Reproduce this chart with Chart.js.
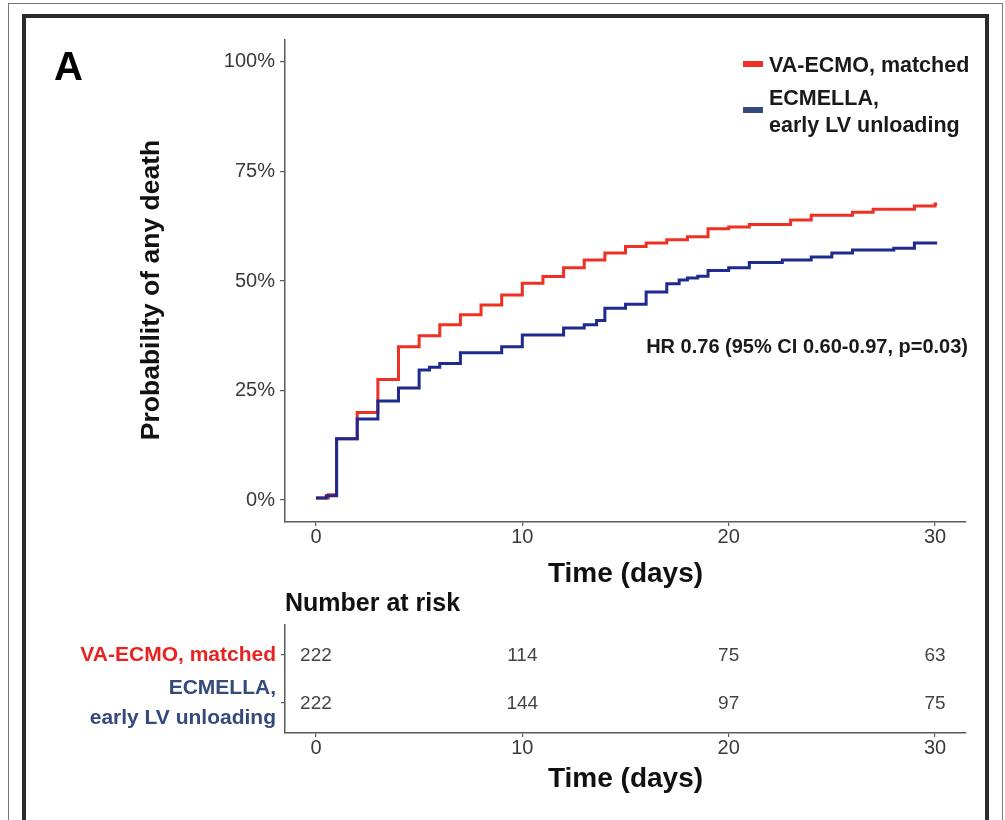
<!DOCTYPE html>
<html><head><meta charset="utf-8">
<script src="https://cdn.jsdelivr.net/npm/chart.js@4.4.1/dist/chart.umd.min.js"></script>
<style>
html,body{margin:0;padding:0;background:#fff;width:1005px;height:820px;overflow:hidden;}
#outer{position:absolute;left:8px;top:3px;width:995px;height:840px;border:1px solid #777;border-bottom:none;box-sizing:border-box;}
#frame{position:absolute;left:22px;top:14px;width:967px;height:840px;border:4px solid #2b2b2b;border-bottom:none;box-sizing:border-box;}
#c1{position:absolute;left:0;top:0;}
#c2{position:absolute;left:0;top:580px;}
</style></head>
<body>
<div id="outer"></div><div id="frame"></div>
<canvas id="c1" width="1005" height="600"></canvas>
<canvas id="c2" width="1005" height="240"></canvas>
<script>
// ---- data ----
const xTicks = [0, 10, 20, 30];
const yTicks = [0, 25, 50, 75, 100];
const vaTimes = [0,0.6,1,2,3,4,5,6,7,8,9,10,11,12,13,14,15,16,17,18,19,20,21,23,24,26,27,29,30,30.1];
const vaValues = [0.5,1.2,14,20,27.5,35,37.5,40,42.3,44.5,46.8,49.5,51,53,54.8,56.4,57.9,58.7,59.4,60.1,61.9,62.3,62.9,63.9,65,65.7,66.4,67.1,67.6,67.6];
const ecTimes = [0,0.5,1,2,3,4,5,5.5,6,7,9,10,12,13,13.6,14,15,16,17,17.6,18,18.5,19,20,21,22.6,24,25,26,28,29,30.1];
const ecValues = [0.5,1.0,14,18.5,22.6,25.6,29.7,30.3,31.2,33.6,35,37.7,39.3,40,41,43.8,44.7,47.5,49.4,50.2,50.7,51.1,52.4,53,54.2,54.8,55.5,56.4,57.1,57.5,58.7,58.7];
const riskVA = [222, 114, 75, 63];
const riskEC = [222, 144, 97, 75];
const seriesNames = ['VA-ECMO, matched', ['ECMELLA,', 'early LV unloading']];
const hrText = 'HR 0.76 (95% CI 0.60-0.97, p=0.03)';
const panelLabel = 'A';
const yTitle = 'Probability of any death';
const xTitle = 'Time (days)';
const riskTitle = 'Number at risk';

// ---- styles ----
const F = '"Liberation Sans", Arial, Helvetica, sans-serif';
const RED = '#ee3124';
const BLUE = '#1e2a8e';
const RED_T = '#e8231f';
const BLUE_T = '#34497c';
const AXIS = '#5a5a5a';
const TICK = '#3a3a3a';

const mainDeco = {
  id: 'mainDeco',
  afterDraw(chart) {
    const ctx = chart.ctx;
    ctx.save();
    ctx.fillStyle = '#000';
    ctx.textAlign = 'left';
    ctx.textBaseline = 'alphabetic';
    ctx.font = 'bold 40px ' + F;
    ctx.fillText(panelLabel, 54, 80);
    // legend
    ctx.fillStyle = RED; ctx.fillRect(743, 61, 20, 6);
    ctx.fillStyle = BLUE_T; ctx.fillRect(743, 107, 20, 6);
    ctx.fillStyle = '#1a1a1a';
    ctx.font = 'bold 21.5px ' + F;
    ctx.fillText(seriesNames[0], 769, 72);
    ctx.fillText(seriesNames[1][0], 769, 105);
    ctx.fillText(seriesNames[1][1], 769, 132);
    // HR
    ctx.textAlign = 'right';
    ctx.font = 'bold 20px ' + F;
    ctx.fillText(hrText, 968, 353);
    // y axis title
    ctx.translate(152, 290);
    ctx.rotate(-Math.PI / 2);
    ctx.textAlign = 'center';
    ctx.textBaseline = 'middle';
    ctx.fillStyle = '#111';
    ctx.font = 'bold 26.5px ' + F;
    ctx.fillText(yTitle, 0, 0);
    ctx.restore();
  }
};

new Chart(document.getElementById('c1'), {
  type: 'line',
  data: {
    datasets: [
      { label: seriesNames[0], data: vaTimes.map((t, i) => ({ x: t, y: vaValues[i] })),
        borderColor: RED, borderWidth: 3, stepped: true, pointRadius: 0, fill: false, order: 1 },
      { label: seriesNames[1].join(' '), data: ecTimes.map((t, i) => ({ x: t, y: ecValues[i] })),
        borderColor: BLUE, borderWidth: 3, stepped: true, pointRadius: 0, fill: false, order: 0 }
    ]
  },
  options: {
    responsive: false, animation: false, devicePixelRatio: 1,
    layout: { padding: { left: 0, right: 39, top: 40, bottom: 0 } },
    plugins: { legend: { display: false }, tooltip: { enabled: false } },
    scales: {
      x: {
        type: 'linear', min: -1.5, max: 31.5,
        afterBuildTicks: s => { s.ticks = xTicks.map(v => ({ value: v })); },
        afterFit: s => { s.height = 78; },
        grid: { display: true, drawOnChartArea: false, drawTicks: true, tickLength: 4, color: AXIS, lineWidth: 1.2 },
        border: { display: true, color: AXIS, width: 1.5 },
        ticks: { font: { family: F, size: 20 }, color: TICK, padding: -1, maxRotation: 0, autoSkip: false },
        title: { display: true, text: xTitle, color: '#111', font: { family: F, size: 28, weight: 'bold' }, padding: { top: 0, bottom: 9 } }
      },
      y: {
        type: 'linear', min: -5, max: 105,
        afterBuildTicks: s => { s.ticks = yTicks.map(v => ({ value: v })); },
        afterFit: s => { s.width = 285; },
        grid: { display: true, drawOnChartArea: false, drawTicks: true, tickLength: 5, color: AXIS, lineWidth: 1.2 },
        border: { display: true, color: AXIS, width: 1.5 },
        ticks: { font: { family: F, size: 20 }, color: TICK, padding: 5, callback: v => v + '%' },
        title: { display: false }
      }
    }
  },
  plugins: [mainDeco]
});

const riskDeco = {
  id: 'riskDeco',
  afterDraw(chart) {
    const ctx = chart.ctx;
    ctx.save();
    ctx.fillStyle = '#111';
    ctx.font = 'bold 25px ' + F;
    ctx.textAlign = 'left';
    ctx.textBaseline = 'middle';
    ctx.fillText(riskTitle, 285, 24);
    ctx.font = '19px ' + F;
    ctx.fillStyle = '#444';
    ctx.textAlign = 'center';
    chart.data.datasets.forEach((ds, di) => {
      const meta = chart.getDatasetMeta(di);
      meta.data.forEach((el, i) => {
        ctx.fillText(String(ds.data[i].n), el.x, el.y + 1);
      });
    });
    ctx.restore();
  }
};

new Chart(document.getElementById('c2'), {
  type: 'scatter',
  data: {
    datasets: [
      { label: 'va', data: xTicks.map((t, i) => ({ x: t, y: 2, n: riskVA[i] })), pointRadius: 0 },
      { label: 'ec', data: xTicks.map((t, i) => ({ x: t, y: 1, n: riskEC[i] })), pointRadius: 0 }
    ]
  },
  options: {
    responsive: false, animation: false, devicePixelRatio: 1,
    layout: { padding: { left: 0, right: 39, top: 45, bottom: 0 } },
    plugins: { legend: { display: false }, tooltip: { enabled: false } },
    scales: {
      x: {
        type: 'linear', min: -1.5, max: 31.5,
        afterBuildTicks: s => { s.ticks = xTicks.map(v => ({ value: v })); },
        afterFit: s => { s.height = 87; },
        grid: { display: true, drawOnChartArea: false, drawTicks: true, tickLength: 4, color: AXIS, lineWidth: 1.2 },
        border: { display: true, color: AXIS, width: 1.5 },
        ticks: { font: { family: F, size: 20 }, color: TICK, padding: -1, maxRotation: 0, autoSkip: false },
        title: { display: true, text: xTitle, color: '#111', font: { family: F, size: 28, weight: 'bold' }, padding: { top: 0, bottom: 24 } }
      },
      y: {
        type: 'linear', min: 0.375, max: 2.625,
        afterBuildTicks: s => { s.ticks = [{ value: 2 }, { value: 1 }]; },
        afterFit: s => { s.width = 285; },
        grid: { display: true, drawOnChartArea: false, drawTicks: true, tickLength: 4, color: AXIS, lineWidth: 1.2 },
        border: { display: true, color: AXIS, width: 1.5 },
        ticks: {
          font: { family: F, size: 21, weight: 'bold', lineHeight: 1.45 }, padding: 5,
          color: c => (c.tick && c.tick.value === 2) ? RED_T : BLUE_T,
          callback: v => v === 2 ? seriesNames[0] : seriesNames[1]
        }
      }
    }
  },
  plugins: [riskDeco]
});
</script>
</body></html>
